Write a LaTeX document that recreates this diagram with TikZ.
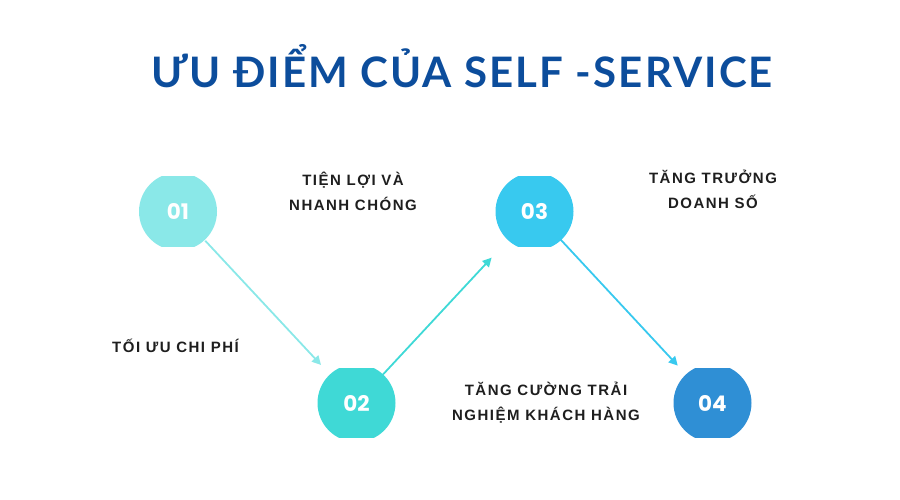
\documentclass[tikz,border=0pt]{standalone}
\usepackage{fontspec}
\setmainfont{Liberation Sans}
\newfontfamily\titlefont[LetterSpace=5]{Lato}
\newfontfamily\labelfont[LetterSpace=10]{Liberation Sans}
\newfontfamily\numfont{Poppins}
\usepackage{tikz}
\usetikzlibrary{arrows.meta, calc}
\definecolor{mynavy}{RGB}{12,77,156}
\definecolor{mydark}{RGB}{30,30,30}
\definecolor{cyanone}{RGB}{138,232,232}
\definecolor{cyantwo}{RGB}{63,217,214}
\definecolor{cyanthree}{RGB}{56,201,239}
\definecolor{bluefour}{RGB}{47,143,213}
\tikzset{
  stepdot/.style={rectangle, minimum width=78pt, minimum height=69pt, inner sep=0pt,
    text=white, font=\numfont\bfseries\fontsize{21.5}{24}\selectfont,
    path picture={\fill[#1] (path picture bounding box.center) circle (39pt);}},
  txtlabel/.style={align=center, anchor=base, inner sep=0pt, text=mydark,
    font=\labelfont\bfseries\fontsize{15}{25}\selectfont},
  arrow/.style={-{Triangle[length=9pt,width=9pt]}, line width=1.8pt, color=#1}
}
\begin{document}
\begin{tikzpicture}[x=1pt, y=-1pt]
  \useasboundingbox (0,0) rectangle (900,500);

  % Title
  \node[anchor=base, text=mynavy, font=\titlefont\bfseries\fontsize{42}{48}\selectfont] (title) at (462,88) {ƯU ĐIỂM CỦA SELF -SERVICE};

  % Steps
  \node[stepdot=cyanone] (n1) at (178,211.5) {01};
  \node[stepdot=cyantwo] (n2) at (356.5,403) {02};
  \node[stepdot=cyanthree] (n3) at (534.5,211.5) {03};
  \node[stepdot=bluefour] (n4) at (712.5,403) {04};

  % Labels
  \node[txtlabel] (t1) at (353,211) {TIỆN LỢI VÀ\\NHANH CHÓNG};
  \node[txtlabel] (t2) at (175.5,352) {TỐI ƯU CHI PHÍ};
  \node[txtlabel] (t3) at (713,208) {TĂNG TRƯỞNG\\DOANH SỐ};
  \node[txtlabel] (t4) at (546,420) {TĂNG CƯỜNG TRẢI\\NGHIỆM KHÁCH HÀNG};

  % Connectors
  \draw[arrow=cyanone] ($(n1)!40pt!(n2)$) -- ($(n2)!52pt!(n1)$);
  \draw[arrow=cyantwo] ($(n2)!39pt!(n3)$) -- ($(n3)!63pt!(n2)$);
  \draw[arrow=cyanthree] ($(n3)!38pt!(n4)$) -- ($(n4)!51pt!(n3)$);
\end{tikzpicture}
\end{document}
